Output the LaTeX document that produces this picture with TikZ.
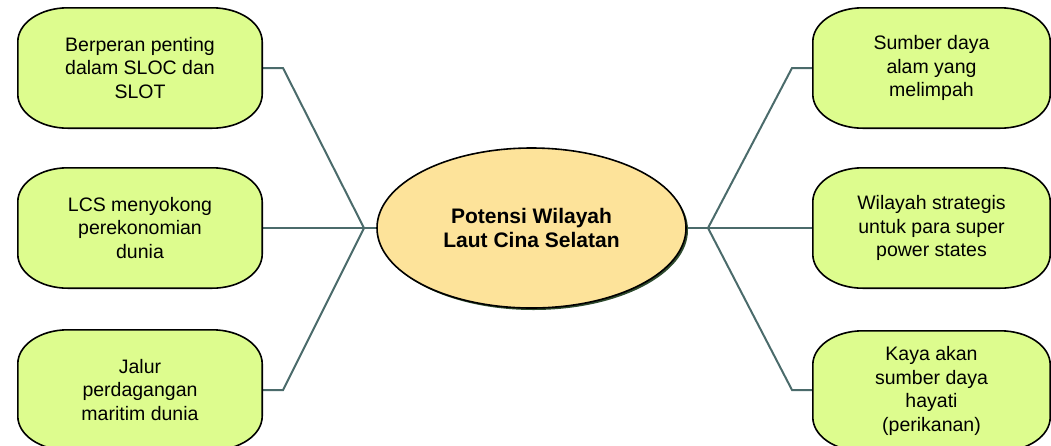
\documentclass[tikz,border=0pt]{standalone}
\usepackage{fontspec}
\setmainfont{Liberation Sans}
\usetikzlibrary{backgrounds,shapes.geometric,shadows}

\definecolor{bubblefill}{HTML}{DDFC8E}
\definecolor{corefill}{HTML}{FDE39A}
\definecolor{linkcol}{HTML}{4B6B6B}
\definecolor{shadecol}{HTML}{2E4A2E}

\tikzset{
  bubble/.style={inner sep=0pt, minimum width=244pt, minimum height=120pt,
    align=center, font=\fontsize{19.5}{23.5}\selectfont},
  bubbleline/.style={fill=bubblefill, draw=black, line width=1.6pt},
  core/.style={ellipse, fill=corefill, draw=black, line width=1.6pt,
    minimum width=309pt, minimum height=160pt, inner sep=0pt, align=center,
    font=\fontsize{21}{24}\selectfont\bfseries,
    drop shadow={shadow xshift=2pt, shadow yshift=-2pt, fill=shadecol, opacity=1}},
  link/.style={draw=linkcol, line width=2pt},
}

% outline of a bubble with elliptic corners around a named node
\newcommand\bubbleoutline[1]{%
  \filldraw[bubbleline]
    ([yshift=-34pt]#1.north west) arc[start angle=180,end angle=90,x radius=50pt,y radius=34pt]
    -- ([xshift=-50pt]#1.north east) arc[start angle=90,end angle=0,x radius=50pt,y radius=34pt]
    -- ([yshift=34pt]#1.south east) arc[start angle=0,end angle=-90,x radius=50pt,y radius=34pt]
    -- ([xshift=50pt]#1.south west) arc[start angle=-90,end angle=-180,x radius=50pt,y radius=34pt]
    -- cycle;}

\begin{document}
\begin{tikzpicture}[x=1pt,y=1pt]
  \useasboundingbox (0,0) rectangle (1051,-445);
  \clip (0,0) rectangle (1051,-445);

  % centre topic
  \node[core] (center) at (531.5,-228) {Potensi Wilayah\\Laut Cina Selatan};

  % left bubbles
  \node[bubble] (l1) at (140,-68)  {Berperan penting\\dalam SLOC dan\\SLOT};
  \node[bubble] (l2) at (140,-228) {LCS menyokong\\perekonomian\\dunia};
  \node[bubble] (l3) at (140,-390) {Jalur\\perdagangan\\maritim dunia};

  % right bubbles
  \node[bubble, minimum width=237pt] (r1) at (931.5,-68)  {Sumber daya\\alam yang\\melimpah};
  \node[bubble, minimum width=237pt] (r2) at (931.5,-228) {Wilayah strategis\\untuk para super\\power states};
  \node[bubble, minimum width=237pt] (r3) at (931.5,-391) {Kaya akan\\sumber daya\\hayati\\(perikanan)};

  % branching points
  \coordinate (lj) at (364,-228);
  \coordinate (rj) at (708,-228);

  \begin{pgfonlayer}{background}
    % connectors
    \draw[link] (center.west) -- (lj);
    \draw[link] (lj) -- (283,-68) -- (l1.east |- 0,-68);
    \draw[link] (lj) -- (l2.east);
    \draw[link] (lj) -- (283,-390) -- (l3.east);
    \draw[link] (center.east) -- (rj);
    \draw[link] (rj) -- (792,-68) -- (r1.west);
    \draw[link] (rj) -- (r2.west);
    \draw[link] (rj) -- (792,-390) -- (r3.west |- 0,-390);
    % bubble outlines
    \bubbleoutline{l1}
    \bubbleoutline{l2}
    \bubbleoutline{l3}
    \bubbleoutline{r1}
    \bubbleoutline{r2}
    \bubbleoutline{r3}
  \end{pgfonlayer}
\end{tikzpicture}
\end{document}
